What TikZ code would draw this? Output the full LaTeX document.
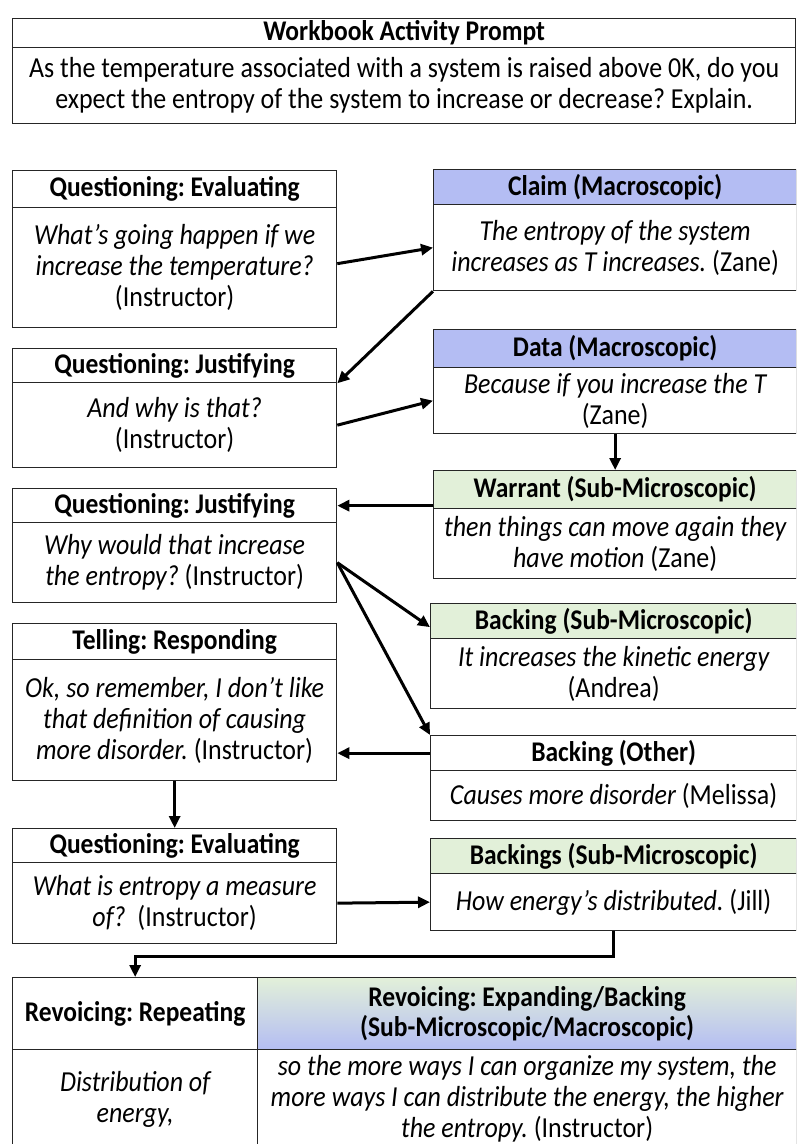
\documentclass[tikz,border=0pt]{standalone}
\usepackage{fontspec}
\setmainfont{Carlito}[FakeStretch=0.895]
\usetikzlibrary{arrows.meta,positioning,calc}
\definecolor{macro}{HTML}{B4BDF3}
\definecolor{submicro}{HTML}{E2F0D9}
\newcommand{\hfnt}{\fontsize{28.5}{30}\selectfont\bfseries\frenchspacing}
\newcommand{\bfnt}{\fontsize{29}{31}\selectfont\frenchspacing}
\newcommand{\utt}[1]{{\itshape #1}}
\begin{document}
\begin{tikzpicture}[x=1pt,y=-1pt,
  cell/.style={draw=black!85, line width=1.3pt, inner sep=0pt, align=center, anchor=north west},
  hd/.style={cell, font=\hfnt},
  bd/.style={cell, font=\bfnt},
  arr/.style={line width=3pt, -{Triangle[length=12pt,width=11pt]}}]
\useasboundingbox (0,0) rectangle (796,1144);
\clip (0,0) rectangle (796,1144);

% workbook prompt
\node[hd, minimum width=783pt, minimum height=29pt] (wph) at (12,18) {Workbook Activity Prompt};
\node[bd, minimum width=783pt, minimum height=76pt] (wp) at (12,47)
  {As the temperature associated with a system is raised above 0K, do you\\expect the entropy of the system to increase or decrease? Explain.};

% left column: instructor moves
\node[hd, minimum width=324pt, minimum height=37pt] (qe1h) at (12,170) {Questioning: Evaluating};
\node[bd, minimum width=324pt, minimum height=120pt] (qe1) at (12,207)
  {\utt{What’s going happen if we}\\\utt{increase the temperature?}\\(Instructor)};

\node[hd, minimum width=324pt, minimum height=34pt] (qj1h) at (12,348) {Questioning: Justifying};
\node[bd, minimum width=324pt, minimum height=85pt] (qj1) at (12,382)
  {\utt{And why is that?}\\(Instructor)};

\node[hd, minimum width=324pt, minimum height=34pt] (qj2h) at (12,488) {Questioning: Justifying};
\node[bd, minimum width=324pt, minimum height=80pt] (qj2) at (12,522)
  {\utt{Why would that increase}\\\utt{the entropy?} (Instructor)};

\node[hd, minimum width=324pt, minimum height=36pt] (trh) at (12,623) {Telling: Responding};
\node[bd, minimum width=324pt, minimum height=121pt] (tr) at (12,659)
  {\utt{Ok, so remember, I don\symbol{39}t like}\\\utt{that definition of causing}\\\utt{more disorder.} (Instructor)};

\node[hd, minimum width=324pt, minimum height=34pt] (qe2h) at (12,828) {Questioning: Evaluating};
\node[bd, minimum width=324pt, minimum height=81pt] (qe2) at (12,862)
  {\utt{What is entropy a measure}\\\utt{of?}\ \ (Instructor)};

% right column: argument components
\node[hd, fill=macro, minimum width=363pt, minimum height=35pt] (clh) at (433,169) {Claim (Macroscopic)};
\node[bd, minimum width=363pt, minimum height=86pt] (cl) at (433,204)
  {\utt{The entropy of the system}\\\utt{increases as T increases.} (Zane)};

\node[hd, fill=macro, minimum width=363pt, minimum height=38pt] (dah) at (433,329) {Data (Macroscopic)};
\node[bd, minimum width=363pt, minimum height=66pt] (da) at (433,367)
  {\utt{Because if you increase the T}\\(Zane)};

\node[hd, fill=submicro, minimum width=363pt, minimum height=38pt] (wah) at (433,470) {Warrant (Sub-Microscopic)};
\node[bd, minimum width=363pt, minimum height=70pt] (wa) at (433,508)
  {\utt{then things can move again they}\\\utt{have motion} (Zane)};

\node[hd, fill=submicro, minimum width=366pt, minimum height=35pt] (bsh) at (430,603) {Backing (Sub-Microscopic)};
\node[bd, minimum width=366pt, minimum height=70pt] (bs) at (430,638)
  {\utt{It increases the kinetic energy}\\(Andrea)};

\node[hd, minimum width=366pt, minimum height=35pt] (boh) at (430,735) {Backing (Other)};
\node[bd, minimum width=366pt, minimum height=50pt] (bo) at (430,770)
  {\utt{Causes more disorder} (Melissa)};

\node[hd, fill=submicro, minimum width=366pt, minimum height=35pt] (bkh) at (430,838) {Backings (Sub-Microscopic)};
\node[bd, minimum width=366pt, minimum height=57pt] (bk) at (430,873)
  {\utt{How energy’s distributed.} (Jill)};

% revoicing table (continues past the lower edge)
\node[hd, minimum width=245pt, minimum height=72pt] (rrh) at (12,977) {Revoicing: Repeating};
\node[hd, top color=submicro, bottom color=macro, minimum width=539pt, minimum height=72pt] (reh) at (257,977)
  {Revoicing: Expanding/Backing\\(Sub-Microscopic/Macroscopic)};
\node[bd, minimum width=245pt, minimum height=99pt] (rr) at (12,1049)
  {\utt{Distribution of}\\\utt{energy,}};
\node[bd, minimum width=539pt, minimum height=99pt] (re) at (257,1049)
  {\utt{so the more ways I can organize my system, the}\\\utt{more ways I can distribute the energy, the higher}\\\utt{the entropy.} (Instructor)};

% connectors
\draw[arr] ([yshift=4pt]qe1.east) -- (cl.west);
\draw[arr] (cl.south west) -- (qj1h.south east);
\draw[arr] (qj1.east) -- (da.west);
\draw[arr] (da.south) -- (wah.north);
\draw[arr] (wah.west |- qj2h.east) -- (qj2h.east);
\draw[arr] (qj2.east) -- ([yshift=-6pt]bsh.west);
\draw[arr] (qj2.east) -- (boh.north west);
\draw[arr] (boh.west) -- (tr.east |- boh.west);
\draw[arr] (tr.south) -- (qe2h.north);
\draw[arr] (qe2.east) -- (bk.west);
\draw[arr] (bk.south) -- ++(0,25) -| (rrh.north);
\end{tikzpicture}
\end{document}
